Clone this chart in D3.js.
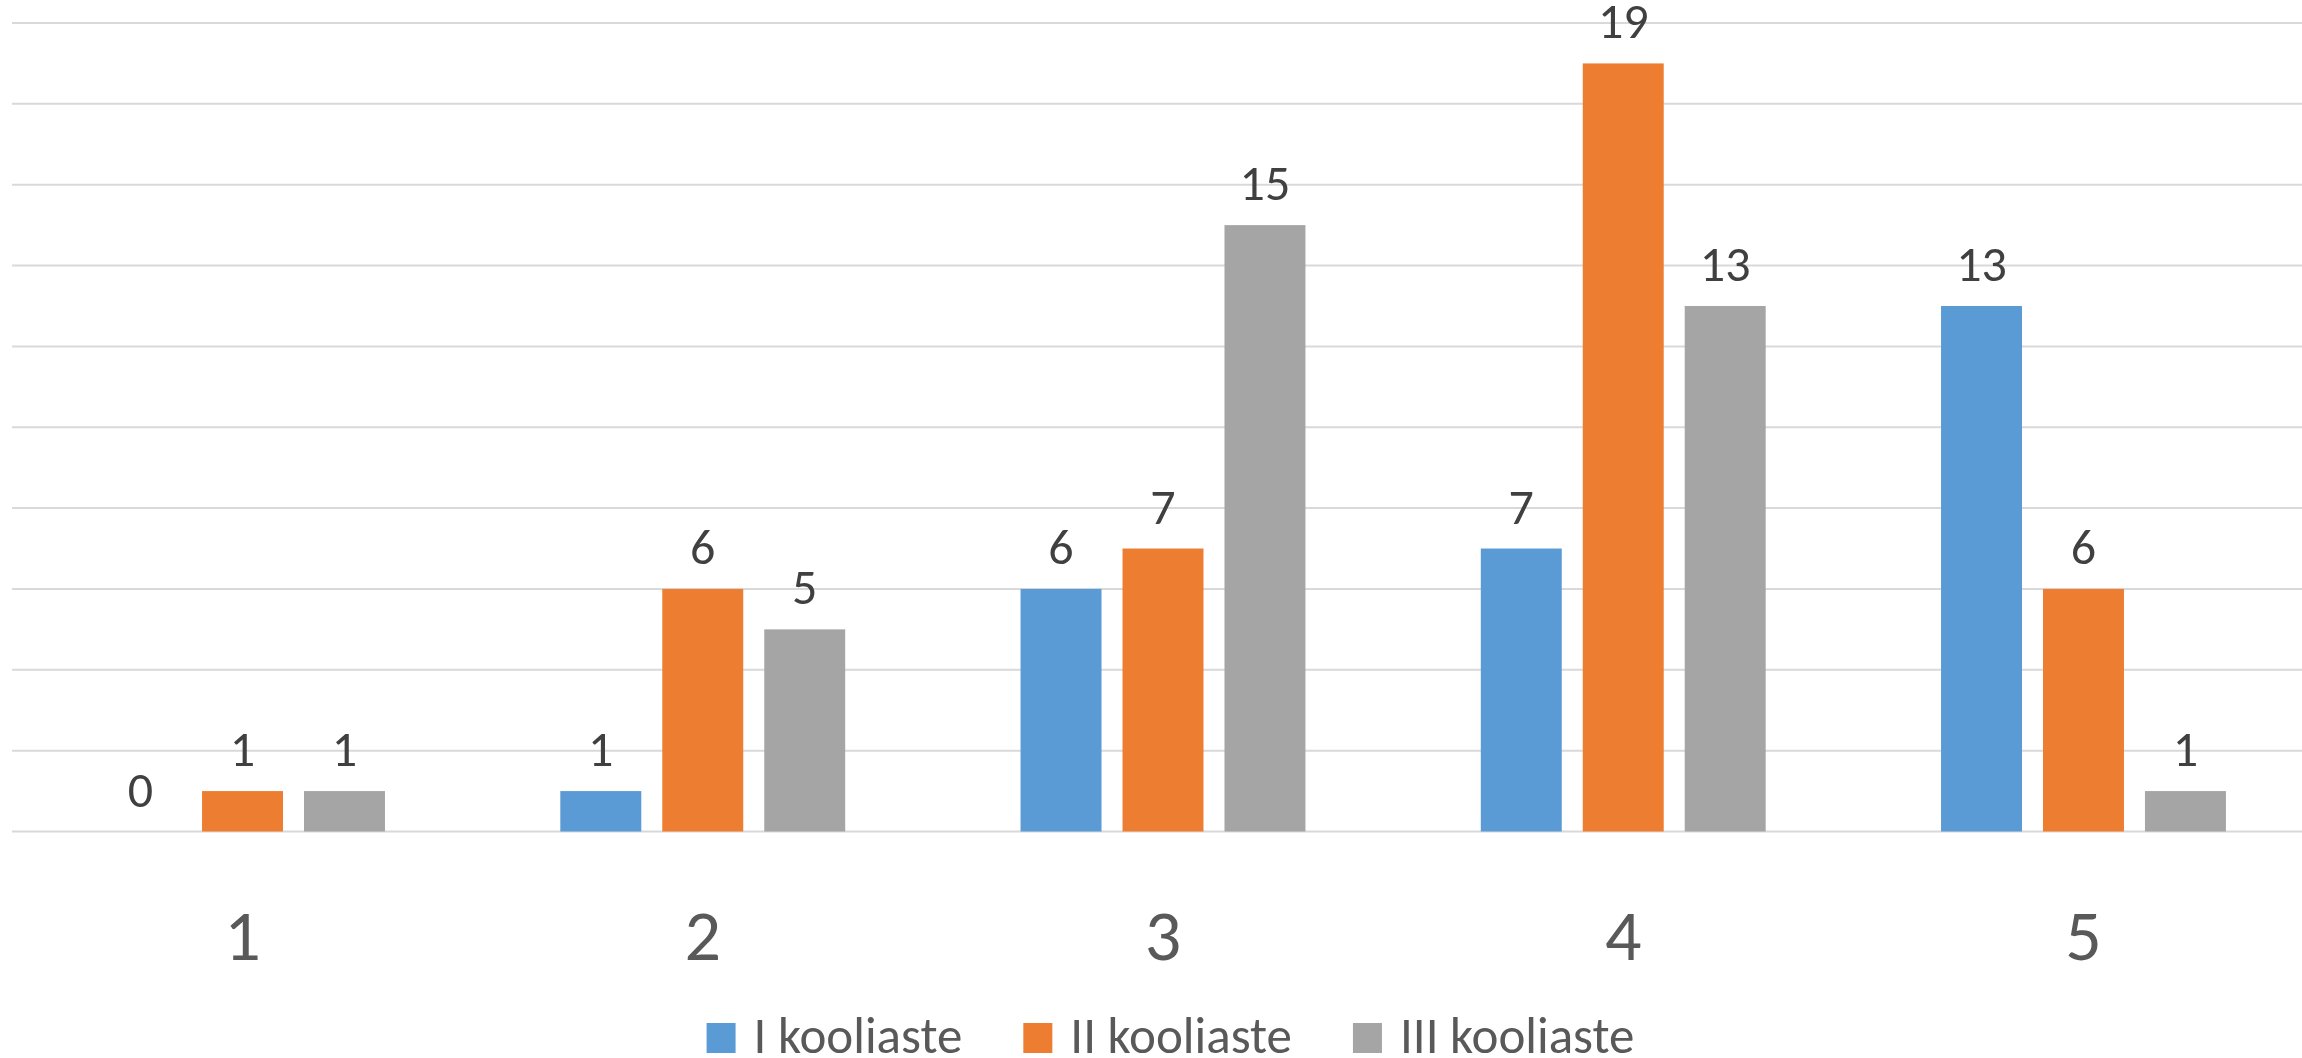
<!DOCTYPE html>
<html>
<head>
<meta charset="utf-8">
<script src="https://cdn.jsdelivr.net/npm/d3@7"></script>
<style>
  body { margin: 0; background: #fff; }
  svg { display: block; font-family: Carlito, Calibri, Lato, sans-serif; }
</style>
</head>
<body>
<div id="chart"></div>
<script>
// data
var categories = ["1", "2", "3", "4", "5"];
var seriesNames = ["I kooliaste", "II kooliaste", "III kooliaste"];
var series1 = [0, 1, 6, 7, 13];
var series2 = [1, 6, 7, 19, 6];
var series3 = [1, 5, 15, 13, 1];
var yTicks = [0, 2, 4, 6, 8, 10, 12, 14, 16, 18, 20];
var colors = ["#5B9BD5", "#ED7D31", "#A5A5A5"];

var width = 2302, height = 1058;

var svg = d3.select("#chart")
  .append("svg")
    .attr("width", width)
    .attr("height", height);

// plot area runs a little past the right edge, like the original
var x0 = d3.scaleBand()
  .domain(categories)
  .range([12.4, 2313.6])
  .paddingInner(0.381)
  .paddingOuter(0.1905);

var x1 = d3.scaleBand()
  .domain(seriesNames)
  .range([0, x0.bandwidth()])
  .paddingInner(0.206);

var y = d3.scaleLinear()
  .domain([0, 20])
  .range([831.5, 23]);

// gridlines
svg.append("g")
  .selectAll("line")
  .data(yTicks)
  .enter()
  .append("line")
    .attr("x1", 12)
    .attr("x2", width)
    .attr("y1", d => y(d))
    .attr("y2", d => y(d))
    .style("stroke", "#D9D9D9")
    .style("stroke-width", 2);

var rows = categories.map(function (c, i) {
  return { cat: c, values: [series1[i], series2[i], series3[i]] };
});

var groups = svg.append("g")
  .selectAll("g")
  .data(rows)
  .enter()
  .append("g")
    .attr("transform", d => "translate(" + x0(d.cat) + ",0)");

var cells = groups.selectAll("g")
  .data(d => d.values.map((v, k) => ({ name: seriesNames[k], value: v, k: k })))
  .enter()
  .append("g");

cells.append("rect")
    .attr("x", d => x1(d.name))
    .attr("y", d => y(d.value))
    .attr("width", x1.bandwidth())
    .attr("height", d => y(0) - y(d.value))
    .style("fill", d => colors[d.k]);

cells.append("text")
    .attr("x", d => x1(d.name) + x1.bandwidth() / 2)
    .attr("y", d => y(d.value) - 25)
    .attr("text-anchor", "middle")
    .style("font-size", "50px")
    .style("fill", "#404040")
    .text(d => d.value);

// category labels
svg.append("g")
  .selectAll("text")
  .data(categories)
  .enter()
  .append("text")
    .attr("x", d => x0(d) + x0.bandwidth() / 2)
    .attr("y", 960)
    .attr("text-anchor", "middle")
    .style("font-size", "72px")
    .style("fill", "#595959")
    .text(d => d);

// legend
var legend = svg.append("g");
var items = legend.selectAll("g")
  .data(seriesNames)
  .enter()
  .append("g");

items.append("rect")
    .attr("width", 29)
    .attr("height", 30)
    .attr("y", 1023)
    .style("fill", (d, i) => colors[i]);

items.append("text")
    .attr("x", 47)
    .attr("y", 1053)
    .style("font-size", "51px")
    .style("fill", "#595959")
    .text(d => d);

var widths = [];
items.selectAll("text").each(function () { widths.push(this.getComputedTextLength()); });
var total = 0;
widths.forEach(function (w, i) { total += 47 + w + (i < widths.length - 1 ? 61 : 0); });
var cx = 1170.5 - total / 2;
items.attr("transform", function (d, i) {
  var t = "translate(" + cx + ",0)";
  cx += 47 + widths[i] + 61;
  return t;
});
</script>
</body>
</html>
